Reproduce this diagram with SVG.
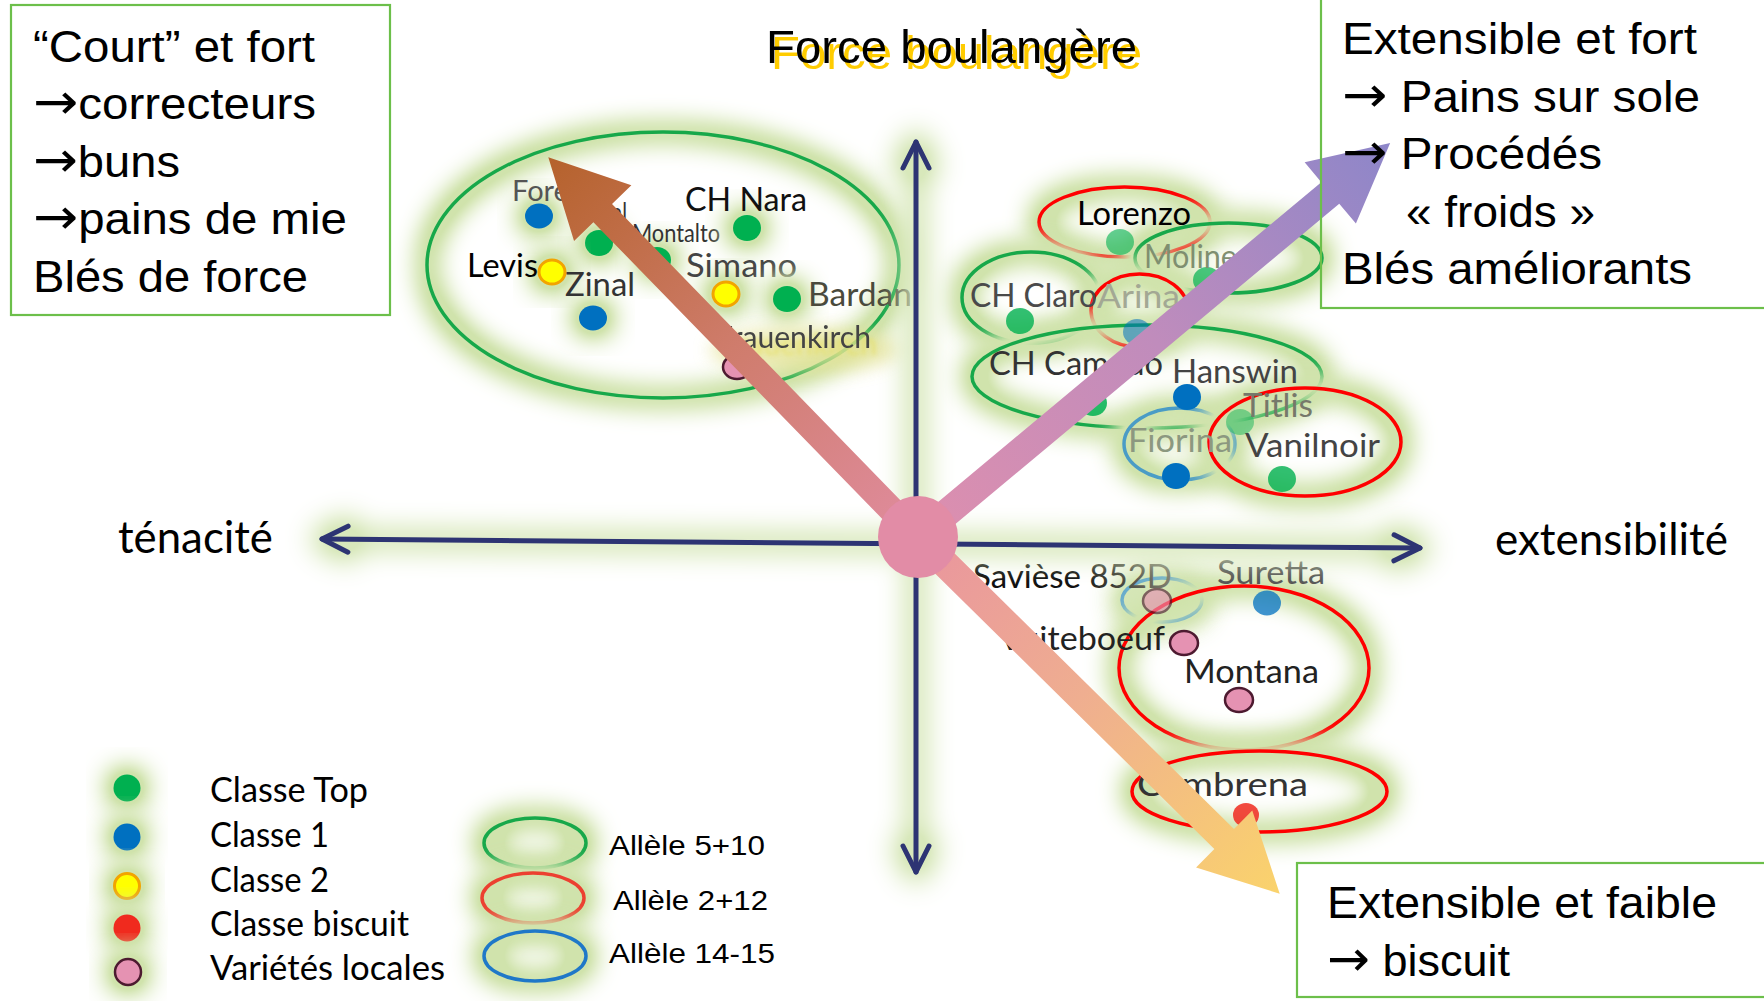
<svg xmlns="http://www.w3.org/2000/svg" width="1764" height="1001" viewBox="0 0 1764 1001">
<defs>
<style>
.box{fill:none;stroke:#6cbf4a;stroke-width:2.2}
.bt{font-family:"Liberation Sans",Arial,sans-serif;font-size:44px;fill:#000}
.arr{font-family:"DejaVu Sans",sans-serif;font-size:50px}
.lb{font-family:Lato,"Noto Sans",sans-serif;font-size:32px;fill:#333}
.lg{font-family:Lato,"Noto Sans",sans-serif;font-size:35px;fill:#000}
.al{font-family:"Liberation Sans",Arial,sans-serif;font-size:27px;fill:#000}
.ax{font-family:Lato,"Noto Sans",sans-serif;font-size:44px;fill:#000}
.dot{stroke:none}
.g{fill:#00b050}.b{fill:#0070c0}.y{fill:#ffff00;stroke:#f2a400;stroke-width:3}
.r{fill:#f02a1e}.p{fill:#e592b2;stroke:#4d1a30;stroke-width:2.5}
.eg{fill:none;stroke:#17a84a;stroke-width:3.5}
.er{fill:none;stroke:#ff0000;stroke-width:3.5}
.eb{fill:none;stroke:#4a9cc6;stroke-width:3.5}
.gw{filter:url(#gl)}
.axis{fill:none;stroke:#2d3473;stroke-width:5;stroke-linecap:round;marker-start:url(#chev);marker-end:url(#chev)}
</style>
<filter id="gl" x="-100%" y="-100%" width="300%" height="300%" color-interpolation-filters="sRGB">
<feMorphology in="SourceAlpha" operator="dilate" radius="5" result="d"/>
<feGaussianBlur in="d" stdDeviation="13" result="bl"/>
<feComponentTransfer in="bl" result="b2"><feFuncA type="linear" slope="2.2"/></feComponentTransfer>
<feFlood flood-color="#d0e3ac"/>
<feComposite in2="b2" operator="in" result="gg"/>
<feMerge><feMergeNode in="gg"/><feMergeNode in="SourceGraphic"/></feMerge>
</filter>
<filter id="gla" filterUnits="userSpaceOnUse" x="0" y="0" width="1764" height="1001" color-interpolation-filters="sRGB">
<feMorphology in="SourceAlpha" operator="dilate" radius="6" result="d"/>
<feGaussianBlur in="d" stdDeviation="14" result="bl"/>
<feComponentTransfer in="bl" result="b2"><feFuncA type="linear" slope="1.6"/></feComponentTransfer>
<feFlood flood-color="#d8e8bb"/>
<feComposite in2="b2" operator="in" result="gg"/>
<feMerge><feMergeNode in="gg"/><feMergeNode in="SourceGraphic"/></feMerge>
</filter>
<filter id="ysh" x="-5%" y="-30%" width="115%" height="170%" color-interpolation-filters="sRGB">
<feFlood flood-color="#ffcc00"/>
<feComposite in2="SourceAlpha" operator="in"/>
<feOffset dx="5" dy="6" result="s"/>
<feMerge><feMergeNode in="s"/><feMergeNode in="SourceGraphic"/></feMerge>
</filter>
<filter id="ysh2" x="-10%" y="-40%" width="125%" height="190%" color-interpolation-filters="sRGB">
<feFlood flood-color="#e6df64" flood-opacity="0.8"/>
<feComposite in2="SourceAlpha" operator="in"/>
<feOffset dx="6" dy="7"/>
<feGaussianBlur stdDeviation="2" result="s"/>
<feMerge><feMergeNode in="s"/><feMergeNode in="SourceGraphic"/></feMerge>
</filter>
<filter id="soft" x="-50%" y="-100%" width="200%" height="300%"><feGaussianBlur stdDeviation="9"/></filter>
<marker id="chev" viewBox="-32 -18 36 36" refX="0" refY="0" markerWidth="36" markerHeight="36" markerUnits="userSpaceOnUse" orient="auto-start-reverse">
<path d="M-26,-13 L0,0 L-26,13" fill="none" stroke="#2d3473" stroke-width="5" stroke-linecap="round" stroke-linejoin="round"/>
</marker>
<linearGradient id="grBrown" gradientUnits="userSpaceOnUse" x1="0" y1="0" x2="530" y2="0">
<stop offset="0" stop-color="#e08c9e"/><stop offset="0.5" stop-color="#cf7c6c"/><stop offset="1" stop-color="#b5622c"/>
</linearGradient>
<linearGradient id="grPurple" gradientUnits="userSpaceOnUse" x1="0" y1="0" x2="615" y2="0">
<stop offset="0" stop-color="#de8fae"/><stop offset="0.5" stop-color="#c08cbc"/><stop offset="1" stop-color="#8d86c9"/>
</linearGradient>
<linearGradient id="grOrange" gradientUnits="userSpaceOnUse" x1="0" y1="0" x2="508" y2="0">
<stop offset="0" stop-color="#e9959e"/><stop offset="0.45" stop-color="#efae90"/><stop offset="1" stop-color="#fad36c"/>
</linearGradient>
<linearGradient id="grSav" gradientUnits="userSpaceOnUse" x1="1075" y1="0" x2="1172" y2="0">
<stop offset="0" stop-color="#111"/><stop offset="1" stop-color="#808070"/>
</linearGradient>
</defs>
<rect x="0" y="0" width="1764" height="1001" fill="#fff"/>

<!-- allele group ellipses -->
<g id="grp-topleft"><ellipse class="eg gw" cx="663" cy="265" rx="236" ry="133"/></g>
<g id="grp-lorenzo"><ellipse class="er gw" cx="1124.5" cy="222" rx="85.5" ry="35"/></g>
<g id="grp-molinera"><ellipse class="eg gw" cx="1228.5" cy="258" rx="93.5" ry="35"/></g>
<g id="grp-chclaro"><ellipse class="eg gw" cx="1031" cy="297.5" rx="69" ry="45.5"/></g>
<g id="grp-arina"><ellipse class="er gw" cx="1139.5" cy="310.5" rx="48.5" ry="36.5"/></g>
<g id="grp-chcamedo"><ellipse class="eg gw" cx="1147" cy="376.5" rx="175" ry="51.5"/></g>
<g id="grp-fiorina"><ellipse class="eb gw" cx="1179.5" cy="444" rx="55.5" ry="36"/></g>
<g id="grp-vanilnoir"><ellipse class="er gw" cx="1305" cy="442" rx="96" ry="54"/></g>
<g id="grp-saviese"><ellipse class="eb gw" cx="1162" cy="600" rx="40" ry="22" opacity="0.85"/></g>
<g id="grp-montana"><ellipse class="er gw" cx="1244" cy="668" rx="125" ry="82"/></g>
<g id="grp-cambrena"><ellipse class="er gw" cx="1259.5" cy="791.5" rx="127.5" ry="40.5"/></g>

<!-- varieties -->
<g id="n-forel"><ellipse class="dot b gw" cx="539" cy="216" rx="14" ry="12.5"/><text class="lb" x="512" y="201" style="fill:#555;font-size:29px">Forel</text></g>
<g id="n-runal"><ellipse class="dot g gw" cx="599" cy="243" rx="14" ry="13"/><text class="lb" x="577" y="222" style="font-size:26px" textLength="50" lengthAdjust="spacingAndGlyphs">Runal</text></g>
<g id="n-montalto"><ellipse class="dot g gw" cx="657" cy="260" rx="14" ry="13"/><text class="lb" x="632" y="242" style="font-size:25px" textLength="88" lengthAdjust="spacingAndGlyphs">Montalto</text></g>
<g id="n-chnara"><ellipse class="dot g gw" cx="747" cy="228" rx="14" ry="13"/><text class="lb" x="685" y="211" style="fill:#111" textLength="122" lengthAdjust="spacingAndGlyphs">CH Nara</text></g>
<g id="n-levis"><ellipse class="dot y gw" cx="552" cy="272" rx="13" ry="12"/><text class="lb" x="467" y="277" style="fill:#000" textLength="71" lengthAdjust="spacingAndGlyphs">Levis</text></g>
<g id="n-simano"><ellipse class="dot y gw" cx="726" cy="294" rx="13" ry="12"/><text class="lb" x="686" y="277" style="fill:#444" textLength="111" lengthAdjust="spacingAndGlyphs">Simano</text></g>
<g id="n-bardan"><ellipse class="dot g gw" cx="787" cy="299" rx="14" ry="13"/><text class="lb" x="808" y="306" style="fill:#4a4a3c" textLength="104" lengthAdjust="spacingAndGlyphs">Bardan</text></g>
<g id="n-zinal"><ellipse class="dot b gw" cx="593" cy="318" rx="14" ry="12.5"/><text class="lb" x="565" y="296" textLength="70" lengthAdjust="spacingAndGlyphs">Zinal</text></g>
<g id="n-frauenkirch">
<ellipse cx="805" cy="350" rx="95" ry="22" fill="#e6e49a" opacity="0.8" filter="url(#soft)"/>
<ellipse class="dot p" cx="737" cy="367" rx="14" ry="12"/>
<text class="lb" x="716" y="348" style="font-size:30px;fill:#444" textLength="155" lengthAdjust="spacingAndGlyphs" filter="url(#ysh2)">Frauenkirch</text></g>

<g id="n-lorenzo"><ellipse class="dot g" cx="1120" cy="242" rx="14" ry="13" opacity="0.6"/><text class="lb" x="1077" y="225" style="fill:#000" textLength="114" lengthAdjust="spacingAndGlyphs">Lorenzo</text></g>
<g id="n-molinera"><ellipse class="dot g" cx="1207" cy="280" rx="14" ry="13" opacity="0.7"/><text class="lb" x="1144" y="268" style="fill:#7f8f70" textLength="119" lengthAdjust="spacingAndGlyphs">Molinera</text></g>
<g id="n-chclaro"><ellipse class="dot g" cx="1020" cy="321" rx="14" ry="13" opacity="0.8"/><text class="lb" x="970" y="307" style="fill:#4a4a4a" textLength="127" lengthAdjust="spacingAndGlyphs">CH Claro</text></g>
<g id="n-arina"><ellipse class="dot b" cx="1137" cy="332" rx="14" ry="13" opacity="0.55"/><text class="lb" x="1097" y="308" style="fill:#a3a894" textLength="83" lengthAdjust="spacingAndGlyphs">Arina</text></g>
<g id="n-chcamedo"><ellipse class="dot g" cx="1093" cy="403" rx="14" ry="13" opacity="0.85"/><text class="lb" x="989" y="375" style="fill:#333" textLength="174" lengthAdjust="spacingAndGlyphs">CH Camedo</text></g>
<g id="n-hanswin"><ellipse class="dot b" cx="1187" cy="397" rx="14" ry="13"/><text class="lb" x="1172" y="383" style="fill:#444" textLength="126" lengthAdjust="spacingAndGlyphs">Hanswin</text></g>
<g id="n-titlis"><ellipse class="dot g" cx="1240" cy="422" rx="14" ry="13" opacity="0.45"/><text class="lb" x="1243" y="417" style="fill:#76786a" textLength="70" lengthAdjust="spacingAndGlyphs">Titlis</text></g>
<g id="n-fiorina"><ellipse class="dot b" cx="1176" cy="476" rx="14" ry="13"/><text class="lb" x="1128" y="452" style="fill:#8c9880" textLength="104" lengthAdjust="spacingAndGlyphs">Fiorina</text></g>
<g id="n-vanilnoir"><ellipse class="dot g" cx="1282" cy="479" rx="14" ry="13" opacity="0.8"/><text class="lb" x="1245" y="457" style="fill:#444" textLength="135" lengthAdjust="spacingAndGlyphs">Vanilnoir</text></g>

<g id="n-saviese"><ellipse class="dot p" cx="1157" cy="601" rx="14" ry="12" opacity="0.65"/><text class="lb" x="973" y="588" fill="url(#grSav)" style="fill:url(#grSav)" textLength="199" lengthAdjust="spacingAndGlyphs">Savièse 852D</text></g>
<g id="n-suretta"><ellipse class="dot b" cx="1267" cy="603" rx="14" ry="12.5" opacity="0.75"/><text class="lb" x="1217" y="584" style="fill:#555" textLength="108" lengthAdjust="spacingAndGlyphs">Suretta</text></g>
<g id="n-vuiteboeuf"><ellipse class="dot p" cx="1184" cy="643" rx="14" ry="12"/><text class="lb" x="999" y="650" style="fill:#222" textLength="166" lengthAdjust="spacingAndGlyphs">Vuiteboeuf</text></g>
<g id="n-montana"><ellipse class="dot p" cx="1239" cy="700" rx="14" ry="12"/><text class="lb" x="1184" y="683" style="fill:#222" textLength="135" lengthAdjust="spacingAndGlyphs">Montana</text></g>
<g id="n-cambrena"><ellipse class="dot r" cx="1246" cy="815" rx="13" ry="12" opacity="0.85"/><text class="lb" x="1137" y="796" style="fill:#333" textLength="171" lengthAdjust="spacingAndGlyphs">Cambrena</text></g>

<!-- legend -->
<g id="legend">
<g id="lg-top"><circle class="dot g gw" cx="127" cy="788" r="13.5"/><text class="lg" x="210" y="802" textLength="158" lengthAdjust="spacingAndGlyphs">Classe Top</text></g>
<g id="lg-c1"><circle class="dot b gw" cx="127" cy="837" r="13.5"/><text class="lg" x="210" y="847" textLength="119" lengthAdjust="spacingAndGlyphs">Classe 1</text></g>
<g id="lg-c2"><circle class="dot y gw" cx="127" cy="886" r="12.5"/><text class="lg" x="210" y="892" textLength="119" lengthAdjust="spacingAndGlyphs">Classe 2</text></g>
<g id="lg-bis"><circle class="dot r gw" cx="127" cy="928" r="13.5"/><text class="lg" x="210" y="936" textLength="199" lengthAdjust="spacingAndGlyphs">Classe biscuit</text></g>
<g id="lg-loc"><circle class="dot p gw" cx="128" cy="972" r="13"/><text class="lg" x="210" y="980" textLength="235" lengthAdjust="spacingAndGlyphs">Variétés locales</text></g>
<g id="lg-a510"><ellipse class="eg gw" cx="535" cy="843" rx="51" ry="25"/><text class="al" x="609" y="855" textLength="156" lengthAdjust="spacingAndGlyphs">Allèle 5+10</text></g>
<g id="lg-a212"><ellipse class="gw" cx="533" cy="898" rx="51" ry="25" fill="none" stroke="#ec4030" stroke-width="3.5"/><text class="al" x="613" y="910" textLength="155" lengthAdjust="spacingAndGlyphs">Allèle 2+12</text></g>
<g id="lg-a1415"><ellipse class="gw" cx="535" cy="956" rx="51" ry="25" fill="none" stroke="#1f78c8" stroke-width="3.5"/><text class="al" x="609" y="963" textLength="166" lengthAdjust="spacingAndGlyphs">Allèle 14-15</text></g>
</g>

<!-- connectors: axes and diagonal arrows -->
<g id="connectors">
<g filter="url(#gla)">
<line id="axis-h" class="axis" x1="322" y1="539" x2="1420" y2="548"/>
<line id="axis-v" class="axis" x1="916" y1="142" x2="916" y2="872"/>
</g>
<polygon id="arrow-force" fill="url(#grBrown)" transform="translate(918,537) rotate(-134.23)" points="0,-13 452,-13 452,-40 530,0 452,40 452,13 0,13"/>
<polygon id="arrow-ext-fort" fill="url(#grPurple)" transform="translate(918,537) rotate(-39.85)" points="0,-14 537,-14 537,-40 615,0 537,40 537,14 0,14"/>
<polygon id="arrow-ext-faible" fill="url(#grOrange)" transform="translate(918,537) rotate(44.6)" points="0,-14 430,-14 430,-40 508,0 430,40 430,14 0,14"/>
</g>
<g id="origin"><ellipse cx="918" cy="537" rx="40" ry="41" fill="#e28ca6"/></g>

<!-- axis labels -->
<g id="lbl-force">
<text x="766" y="63" font-family="Liberation Sans, Arial, sans-serif" font-size="47" fill="#000" textLength="371" lengthAdjust="spacingAndGlyphs" filter="url(#ysh)">Force boulangère</text>
</g>
<g id="lbl-tenacite"><text class="ax" x="118" y="553" textLength="155" lengthAdjust="spacingAndGlyphs">ténacité</text></g>
<g id="lbl-ext"><text class="ax" x="1495" y="555" textLength="233" lengthAdjust="spacingAndGlyphs">extensibilité</text></g>

<!-- boxes -->
<g id="box-court">
<rect class="box" x="11" y="5" width="379" height="310"/>
<text class="bt" x="33" y="62" textLength="282" lengthAdjust="spacingAndGlyphs">“Court” et fort</text>
<text class="bt" x="33" y="119" textLength="283" lengthAdjust="spacingAndGlyphs"><tspan class="arr">→</tspan>correcteurs</text>
<text class="bt" x="33" y="177" textLength="147" lengthAdjust="spacingAndGlyphs"><tspan class="arr">→</tspan>buns</text>
<text class="bt" x="33" y="234" textLength="314" lengthAdjust="spacingAndGlyphs"><tspan class="arr">→</tspan>pains de mie</text>
<text class="bt" x="33" y="292" textLength="275" lengthAdjust="spacingAndGlyphs">Blés de force</text>
</g>
<g id="box-ext-fort">
<rect class="box" x="1321" y="-5" width="460" height="313"/>
<text class="bt" x="1342" y="54" textLength="355" lengthAdjust="spacingAndGlyphs">Extensible et fort</text>
<text class="bt" x="1342" y="112" textLength="358" lengthAdjust="spacingAndGlyphs"><tspan class="arr">→</tspan> Pains sur sole</text>
<text class="bt" x="1342" y="169" textLength="260" lengthAdjust="spacingAndGlyphs"><tspan class="arr">→</tspan> Procédés</text>
<text class="bt" x="1406" y="227" textLength="189" lengthAdjust="spacingAndGlyphs">« froids »</text>
<text class="bt" x="1342" y="284" textLength="350" lengthAdjust="spacingAndGlyphs">Blés améliorants</text>
</g>
<g id="box-ext-faible">
<rect class="box" x="1297" y="863" width="480" height="134"/>
<text class="bt" x="1327" y="918" textLength="390" lengthAdjust="spacingAndGlyphs">Extensible et faible</text>
<text class="bt" x="1327" y="976" textLength="183" lengthAdjust="spacingAndGlyphs"><tspan class="arr">→</tspan> biscuit</text>
</g>
</svg>
